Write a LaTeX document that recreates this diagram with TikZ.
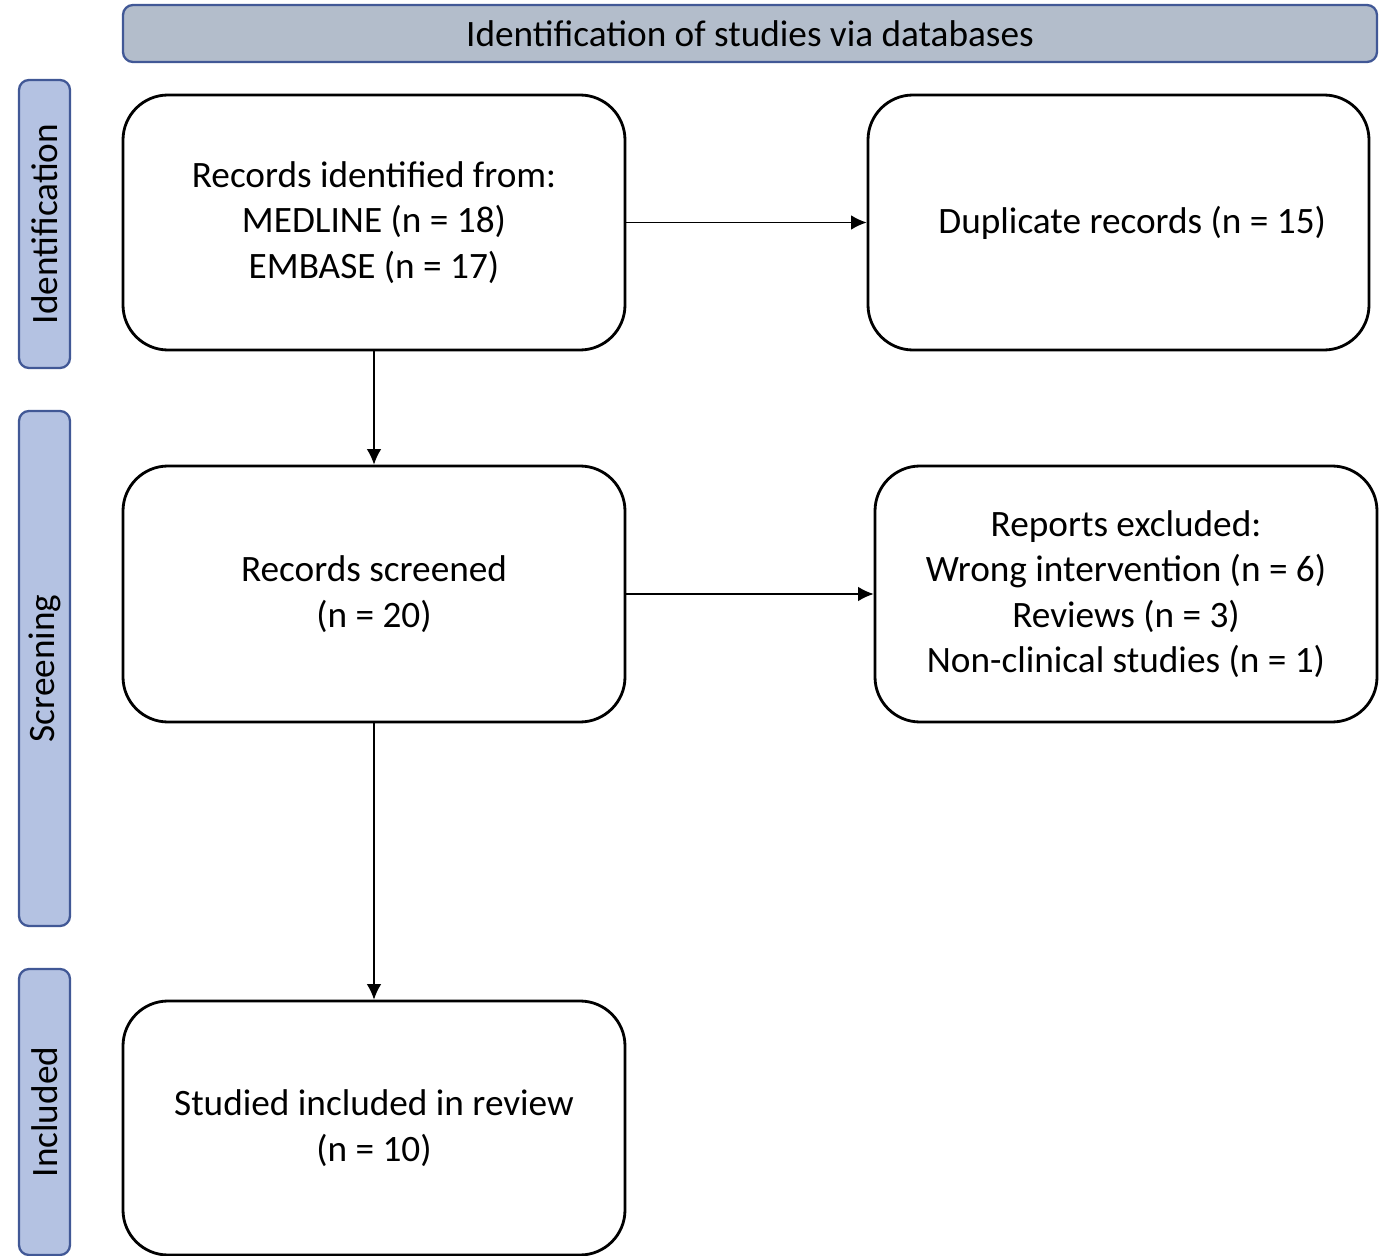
\documentclass[tikz,border=0pt]{standalone}
\usepackage{fontspec}
\setmainfont{Carlito}
\usepackage{tikz}
\usetikzlibrary{arrows.meta}
\usetikzlibrary{positioning}
\definecolor{bannerfill}{RGB}{179,189,203}
\definecolor{stagefill}{RGB}{180,194,226}
\definecolor{stageline}{RGB}{65,88,150}
\tikzset{flow/.style = {-{Latex[length=0.31cm, width=0.29cm]}, line width=0.7pt}}
\tikzset{rbox/.style = {draw, line width=1.6pt, rounded corners=0.9cm, align=center,
                        minimum width=10.04cm, minimum height=5.1cm, inner sep=0,
                        font=\fontsize{21.2pt}{25.8pt}\selectfont}}
\tikzset{stage/.style = {draw=stageline, fill=stagefill, line width=1.3pt, rounded corners=0.2cm,
                         minimum height=1.02cm, inner sep=0, rotate=90,
                         font=\fontsize{21.2pt}{25.8pt}\selectfont}}
\tikzset{banner/.style = {draw=stageline, fill=bannerfill, line width=1.3pt, rounded corners=0.2cm,
                          minimum width=25.08cm, minimum height=1.14cm, inner sep=0,
                          font=\fontsize{21.2pt}{25.8pt}\selectfont}}

\begin{document}
\begin{tikzpicture}
    \useasboundingbox (0, 0) rectangle (27.7, -25.12);

    \node [banner] (head) at (15.0, -0.67) {Identification of studies via databases};

    \node [stage, minimum width=5.76cm] (ident) at (0.89, -4.48) {Identification};
    \node [stage, minimum width=10.3cm] (screen) at (0.89, -13.37) {Screening};
    \node [stage, minimum width=5.72cm] (incl) at (0.89, -22.24) {Included};

    \node [rbox] (records) at (7.48, -4.45) {Records identified from:\\MEDLINE (n = 18)\\EMBASE (n = 17)};
    \node [rbox, minimum width=10.02cm] (dup) at (22.37, -4.45) {\hspace{0.55cm}Duplicate records (n = 15)};

    \node [rbox, minimum height=5.12cm] (screened) at (7.48, -11.88) {Records screened\\(n = 20)};
    \node [rbox, minimum height=5.12cm] (excl) at (22.52, -11.88)
      {Reports excluded:\\Wrong intervention (n = 6)\\Reviews (n = 3)\\Non-clinical studies (n = 1)};

    \node [rbox, minimum height=5.08cm] (study) at (7.48, -22.56) {Studied included in review\\(n = 10)};

    \draw [flow] (records) -- (dup);
    \draw [flow] (records) -- (screened);
    \draw [flow] (screened) -- (excl);
    \draw [flow] (screened) -- (study);
\end{tikzpicture}
\end{document}
